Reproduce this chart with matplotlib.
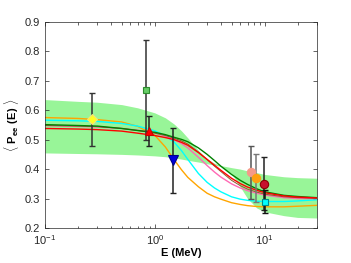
import numpy as np
import matplotlib.pyplot as plt

plt.rcParams['font.family'] = ['Liberation Sans', 'DejaVu Sans']
plt.rcParams['mathtext.fontset'] = 'custom'
plt.rcParams['mathtext.rm'] = 'Liberation Sans'
plt.rcParams['mathtext.bf'] = 'Liberation Sans:bold'

# energia de los puntos (MeV)
E = [0.1, 0.2, 0.3, 0.5, 0.7, 1.0, 1.25, 1.5, 1.75, 2.0, 2.5, 3.0, 3.5, 4.0, 5.0, 6.0, 7.0, 8.5, 10.0, 15.0, 20.0, 30.0]

# curvas teoricas
p_orange = [0.575, 0.572, 0.568, 0.560, 0.545, 0.515, 0.475, 0.432, 0.398, 0.372, 0.340, 0.318, 0.306, 0.298, 0.286, 0.280, 0.276, 0.273, 0.272, 0.272, 0.274, 0.277]
p_cyan   = [0.566, 0.564, 0.562, 0.555, 0.546, 0.530, 0.513, 0.492, 0.463, 0.433, 0.385, 0.355, 0.336, 0.323, 0.306, 0.298, 0.294, 0.291, 0.290, 0.290, 0.292, 0.296]
p_pink   = [0.548, 0.545, 0.543, 0.538, 0.532, 0.523, 0.512, 0.500, 0.487, 0.472, 0.440, 0.412, 0.390, 0.373, 0.350, 0.336, 0.327, 0.318, 0.312, 0.303, 0.300, 0.300]
p_brown  = [0.548, 0.546, 0.544, 0.538, 0.531, 0.522, 0.514, 0.505, 0.496, 0.485, 0.458, 0.432, 0.410, 0.392, 0.362, 0.344, 0.332, 0.322, 0.315, 0.306, 0.303, 0.301]
p_green  = [0.551, 0.548, 0.546, 0.538, 0.531, 0.525, 0.517, 0.508, 0.501, 0.493, 0.472, 0.450, 0.429, 0.410, 0.382, 0.362, 0.348, 0.333, 0.323, 0.311, 0.307, 0.303]
p_red    = [0.538, 0.536, 0.534, 0.529, 0.522, 0.514, 0.507, 0.500, 0.491, 0.481, 0.456, 0.433, 0.413, 0.396, 0.369, 0.351, 0.339, 0.328, 0.320, 0.309, 0.305, 0.302]

# banda verde
band_lo = [0.455, 0.453, 0.452, 0.450, 0.448, 0.445, 0.442, 0.438, 0.434, 0.430, 0.424, 0.418, 0.414, 0.409, 0.385, 0.340, 0.300, 0.268, 0.255, 0.242, 0.236, 0.234]
band_hi = [0.636, 0.630, 0.627, 0.619, 0.608, 0.591, 0.574, 0.553, 0.530, 0.506, 0.463, 0.435, 0.420, 0.412, 0.405, 0.400, 0.394, 0.388, 0.382, 0.374, 0.371, 0.369]

# datos experimentales: E, valor, error inferior, error superior
E_pts   = [0.27, 0.825, 0.88, 1.47, 7.55, 8.3, 9.9, 10.1]
P_pts   = [0.57, 0.67, 0.53, 0.43, 0.39, 0.37, 0.35, 0.29]
err_lo  = [0.09, 0.17, 0.05, 0.11, 0.09, 0.08, 0.09, 0.04]
err_hi  = [0.09, 0.17, 0.05, 0.11, 0.09, 0.08, 0.09, 0.04]
markers = ['D', 's', '^', 'v', 'o', 'o', 'o', 's']
faces   = ['#FFFF22', '#66CC66', '#FF0000', '#0000DD', '#F59A8A', '#FFA010', '#C8102E', '#00FFFF']
edges   = ['#F5E27A', '#2E8B2E', '#CC0000', '#00008B', '#F59A8A', '#FFA010', '#8B0000', '#008B8B']
sizes   = [5.5, 4.5, 6, 6.5, 6, 6, 6, 4.5]
ecols   = ['#333333', '#333333', '#222222', '#222222', '#555555', '#777777', '#222222', '#111111']

fig = plt.figure(figsize=(3.51, 2.63), dpi=100)
ax = fig.add_axes([0.128, 0.133, 0.775, 0.784])

ax.fill_between(E, band_lo, band_hi, color='#98F598', linewidth=0)

ax.plot(E, p_orange, color='#FFA500', lw=1.0)
ax.plot(E, p_cyan, color='#00FFFF', lw=1.0)
ax.plot(E, p_pink, color='#FF69B4', lw=1.0)
ax.plot(E, p_brown, color='#8B5A2B', lw=0.7)
ax.plot(E, p_green, color='#008000', lw=1.0)
ax.plot(E, p_red, color='#FF0000', lw=1.0)

for i in range(len(E_pts)):
    ax.errorbar(E_pts[i], P_pts[i], yerr=[[err_lo[i]], [err_hi[i]]], fmt='none',
                ecolor=ecols[i], elinewidth=1.1, capsize=2.5, capthick=1.0, zorder=4)
    ax.plot(E_pts[i], P_pts[i], marker=markers[i], ms=sizes[i], mfc=faces[i],
            mec=edges[i], mew=0.8, ls='none', zorder=5)

ax.set_xscale('log')
ax.set_xlim(0.1, 30)
ax.set_ylim(0.2, 0.9)
ax.set_yticks(np.arange(0.2, 0.91, 0.1))
ax.set_yticklabels(['%.1f' % v for v in np.arange(0.2, 0.91, 0.1)])
ax.set_xticks([0.1, 1, 10])
ax.set_xticklabels([r'$10^{-1}$', r'$10^{0}$', r'$10^{1}$'])

ax.tick_params(which='both', direction='in', top=True, right=True, labelsize=8,
               colors='#262626', width=0.5)
ax.tick_params(which='major', length=3)
ax.tick_params(which='minor', length=1.8)
for s in ax.spines.values():
    s.set_color('#262626')
    s.set_linewidth(0.5)

ax.set_xlabel('E (MeV)', fontsize=8, fontweight='bold', labelpad=1)
ax.set_ylabel(r'$\langle\ \mathbf{P}_{\mathbf{ee}}\ \mathbf{(E)}\ \rangle$', fontsize=8, labelpad=3)

fig.savefig('out.png', dpi=100)
